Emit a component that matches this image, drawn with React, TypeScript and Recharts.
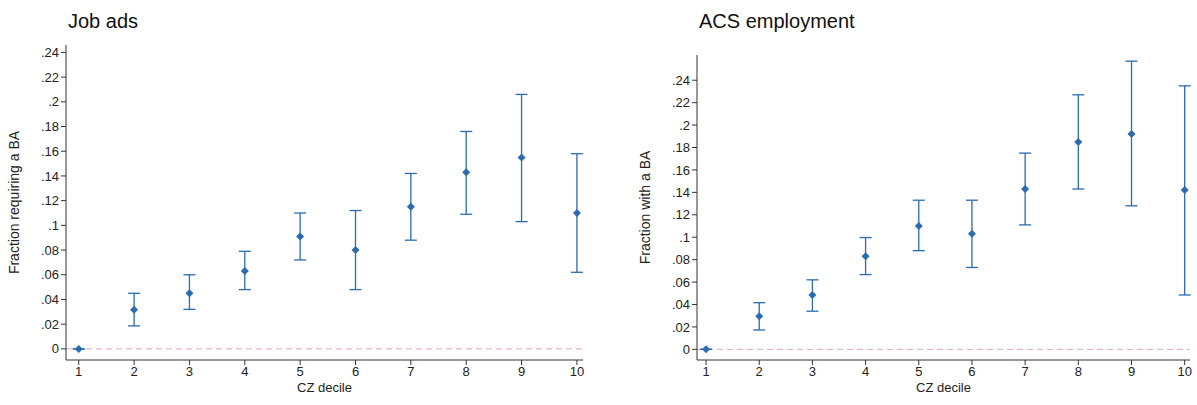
import React from 'react';
import { ScatterChart, Scatter, XAxis, YAxis, ErrorBar, ReferenceLine } from 'recharts';

const deciles = [1, 2, 3, 4, 5, 6, 7, 8, 9, 10];

const adsEst = [0, 0.0316, 0.045, 0.063, 0.091, 0.080, 0.115, 0.143, 0.155, 0.110];
const adsLow = [0, 0.0186, 0.032, 0.048, 0.072, 0.048, 0.088, 0.109, 0.103, 0.062];
const adsHigh = [0, 0.045, 0.060, 0.079, 0.110, 0.112, 0.142, 0.176, 0.206, 0.158];

const acsEst = [0, 0.0295, 0.0485, 0.083, 0.110, 0.103, 0.143, 0.185, 0.192, 0.142];
const acsLow = [0, 0.0173, 0.034, 0.0667, 0.088, 0.073, 0.111, 0.143, 0.128, 0.0485];
const acsHigh = [0, 0.0416, 0.062, 0.0997, 0.133, 0.133, 0.175, 0.227, 0.257, 0.235];

const yTicks = [0, 0.02, 0.04, 0.06, 0.08, 0.1, 0.12, 0.14, 0.16, 0.18, 0.2, 0.22, 0.24];

const blue = '#2a6bb1';
const axisColor = '#333';
const font = 'Liberation Sans, Arial, sans-serif';

const fmt = (v: number) => (v === 0 ? '0' : String(Number(v.toFixed(2))).replace(/^0/, ''));

function build(est: number[], low: number[], high: number[]) {
  return deciles.map((d, i) => ({
    x: d,
    y: est[i],
    err: [est[i] - low[i], high[i] - est[i]],
  }));
}

const Diamond = (props: any) => {
  const { cx, cy } = props;
  const r = 4;
  return <path d={`M${cx},${cy - r}L${cx + r},${cy}L${cx},${cy + r}L${cx - r},${cy}Z`} fill={blue} />;
};

interface PanelProps {
  title: string;
  ylabel: string;
  data: { x: number; y: number; err: number[] }[];
  width: number;
  left: number;
  marginLeft: number;
  marginTop: number;
  yDomain: [number, number];
  xDomain: [number, number];
}

function Panel({ title, ylabel, data, width, left, marginLeft, marginTop, yDomain, xDomain }: PanelProps) {
  return (
    <div style={{ position: 'absolute', left, top: 0, width, height: 405 }}>
      <div style={{ position: 'absolute', left: marginLeft + 58, top: 10, fontSize: 20, fontFamily: font, color: '#111' }}>
        {title}
      </div>
      <ScatterChart width={width} height={405} margin={{ top: marginTop, right: 7, bottom: 5, left: marginLeft }}>
        <XAxis
          type="number"
          dataKey="x"
          domain={xDomain}
          ticks={deciles}
          allowDataOverflow
          stroke={axisColor}
          tick={{ fill: '#222', fontSize: 13, fontFamily: font }}
          tickSize={5}
          height={40}
          label={{ value: 'CZ decile', position: 'insideBottom', offset: 8, fill: '#222', fontSize: 13, fontFamily: font }}
        />
        <YAxis
          type="number"
          dataKey="y"
          domain={yDomain}
          ticks={yTicks}
          allowDataOverflow
          tickFormatter={fmt}
          stroke={axisColor}
          tick={{ fill: '#222', fontSize: 13, fontFamily: font }}
          tickSize={5}
          width={56}
          label={{ value: ylabel, angle: -90, position: 'insideLeft', offset: 4, fill: '#222', fontSize: 14, fontFamily: font, style: { textAnchor: 'middle' } }}
        />
        <ReferenceLine y={0} stroke="#e6a6b8" strokeDasharray="6 4" ifOverflow="extendDomain" />
        <Scatter data={data} fill={blue} shape={Diamond} isAnimationActive={false}>
          <ErrorBar dataKey="err" direction="y" width={6} stroke={blue} strokeWidth={1.3} />
        </Scatter>
      </ScatterChart>
    </div>
  );
}

export default function App() {
  return (
    <div style={{ position: 'absolute', left: 0, top: 0, width: 1197, height: 405, background: '#fff' }}>
      <Panel
        title="Job ads"
        ylabel="Fraction requiring a BA"
        data={build(adsEst, adsLow, adsHigh)}
        width={590}
        left={0}
        marginLeft={10}
        marginTop={45}
        yDomain={[-0.009, 0.246]}
        xDomain={[0.77, 10.11]}
      />
      <Panel
        title="ACS employment"
        ylabel="Fraction with a BA"
        data={build(acsEst, acsLow, acsHigh)}
        width={597}
        left={600}
        marginLeft={41}
        marginTop={55}
        yDomain={[-0.0095, 0.2625]}
        xDomain={[0.83, 10.1]}
      />
    </div>
  );
}
